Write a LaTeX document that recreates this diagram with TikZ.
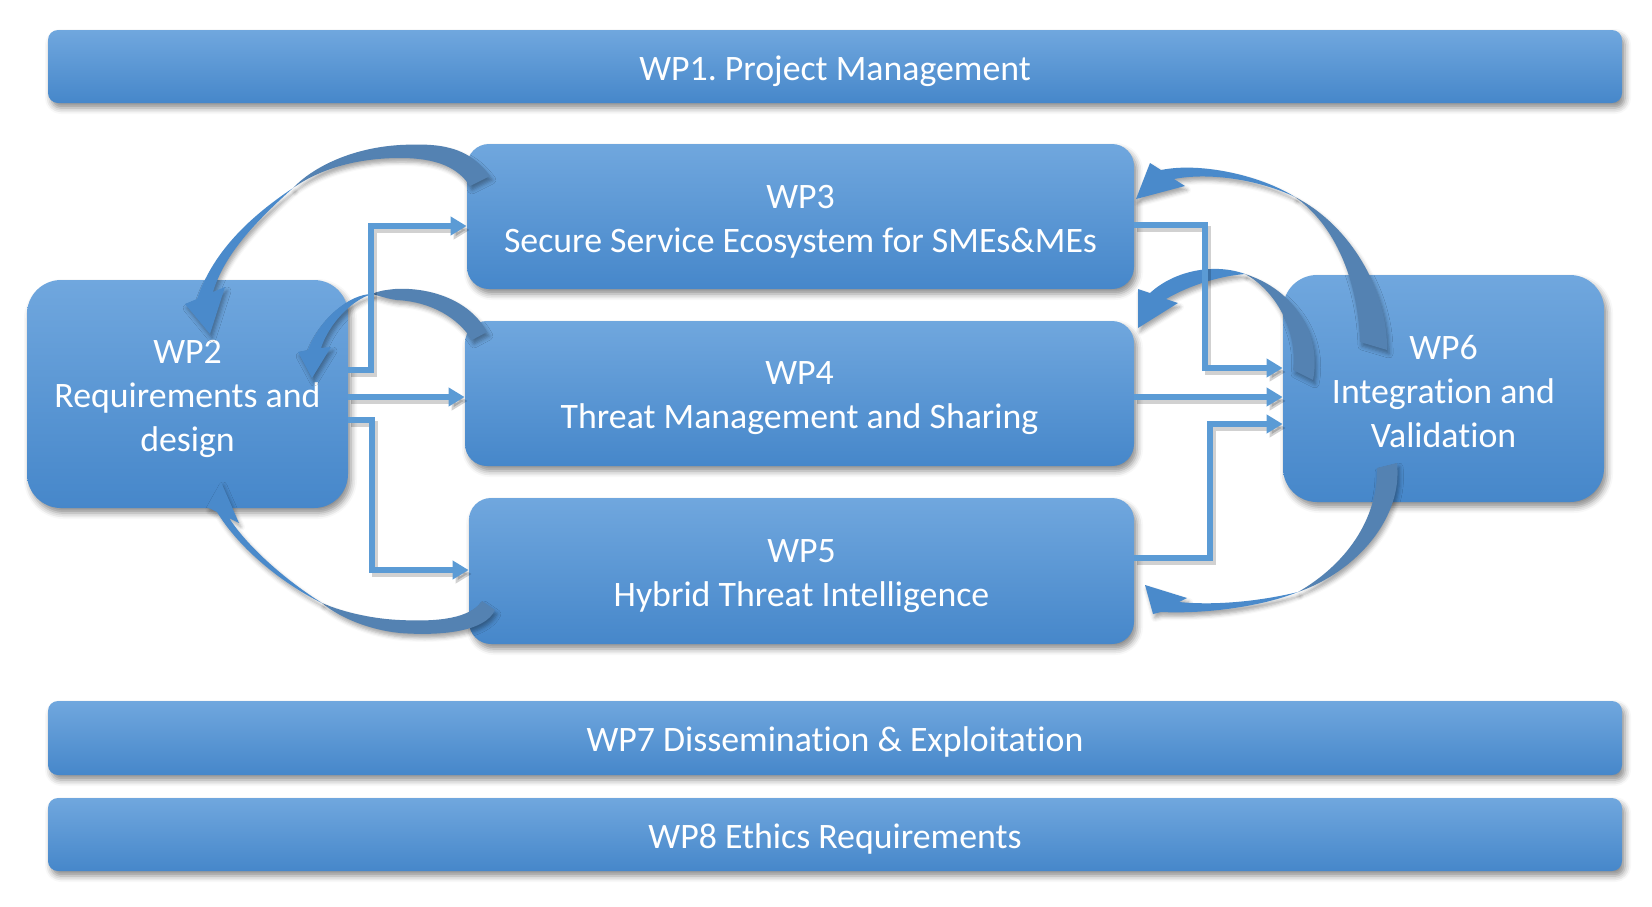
\documentclass[tikz,border=0pt]{standalone}
\usepackage{fontspec}
\setmainfont{Carlito}[Ligatures=NoCommon]
\usetikzlibrary{shadows.blur,arrows.meta}
\definecolor{boxtop}{RGB}{112,167,222}
\definecolor{boxbot}{RGB}{70,135,202}
\definecolor{conncol}{RGB}{91,155,213}
\definecolor{arrback}{RGB}{84,130,178}
\definecolor{arrfront}{RGB}{74,138,203}
\frenchspacing
\begin{document}
\begin{tikzpicture}[x=0.5pt,y=-0.5pt,
  wpbox/.style={rounded corners=#1, top color=boxtop, bottom color=boxbot, draw=none, inner sep=0pt,
    blur shadow={shadow xshift=1.5pt, shadow yshift=-2.5pt, shadow blur radius=3pt, shadow opacity=45}},
  wptext/.style={text=white, align=center, font=\fontsize{17.9}{22}\selectfont, inner sep=0pt},
  conn/.style={draw=conncol, line width=3pt, -{Triangle[length=8pt,width=9pt]},
    preaction={draw=black, opacity=0.18, line width=3pt, transform canvas={shift={(1.5pt,-2pt)}}}},
  cshadow/.style={blur shadow={shadow xshift=1pt, shadow yshift=-2pt, shadow blur radius=2pt, shadow opacity=35}},
  carrback/.style={fill=arrback, cshadow},
  carrfront/.style={fill=arrfront, cshadow}
]
\useasboundingbox (0,0) rectangle (1652,906);

% boxes
\node[wpbox=5pt, minimum width=787pt, minimum height=36.5pt] (wp1) at (835,66.5) {};
\node[wpbox=11pt, minimum width=333.5pt, minimum height=72.5pt] (wp3) at (800.5,216.5) {};
\node[wpbox=11pt, minimum width=334.5pt, minimum height=72.5pt] (wp4) at (799.5,393.5) {};
\node[wpbox=11pt, minimum width=332.5pt, minimum height=73pt] (wp5) at (801.5,571) {};
\node[wpbox=17pt, minimum width=160.5pt, minimum height=114pt] (wp2) at (187.5,394) {};
\node[wpbox=17pt, minimum width=160.5pt, minimum height=113.5pt] (wp6) at (1443.5,388.5) {};
\node[wpbox=5pt, minimum width=787pt, minimum height=37pt] (wp7) at (835,738) {};
\node[wpbox=5pt, minimum width=787pt, minimum height=36.5pt] (wp8) at (835,834.5) {};

\node[wptext] (wp1t) at ([yshift=-2.2pt]wp1.center) {WP1. Project Management};
\node[wptext] (wp3t) at ([yshift=-2.4pt]wp3.center) {WP3\\Secure Service Ecosystem for SMEs\&MEs};
\node[wptext] (wp4t) at ([yshift=-2.4pt]wp4.center) {WP4\\Threat Management and Sharing};
\node[wptext] (wp5t) at ([yshift=-2.4pt]wp5.center) {WP5\\Hybrid Threat Intelligence};
\node[wptext] (wp2t) at ([yshift=-2.6pt]wp2.center) {WP2\\Requirements and\\design};
\node[wptext] (wp6t) at ([yshift=-1.3pt]wp6.center) {WP6\\Integration and\\Validation};
\node[wptext] (wp7t) at ([yshift=-2.2pt]wp7.center) {WP7 Dissemination \& Exploitation};
\node[wptext] (wp8t) at ([yshift=-2.2pt]wp8.center) {WP8 Ethics Requirements};

% curved arrow A: WP3 -> WP2 (top left)
\path[carrback] (490,176) .. controls (468,146) and (440,143) .. (400,145)
  .. controls (350,148) and (312,168) .. (293,188)
  .. controls (318,170) and (355,158) .. (400,158)
  .. controls (438,158) and (458,168) .. (470,186) -- cycle;
\path[carrfront] (293,188) .. controls (245,220) and (212,255) .. (197,299)
  -- (185,304) -- (210,334) -- (225,287) -- (213,292)
  .. controls (224,255) and (255,222) .. (293,188) -- cycle;

% curved arrow B: WP4 -> WP2
\path[carrback] (487,332) .. controls (470,300) and (430,287) .. (395,289)
  .. controls (385,290) and (378,291) .. (372,294)
  .. controls (380,296) and (388,299) .. (397,300)
  .. controls (432,302) and (458,318) .. (472,340) -- cycle;
\path[carrfront] (372,294) .. controls (350,294) and (320,318) .. (308,350)
  -- (298,352) -- (312,378) -- (331,347) -- (321,348)
  .. controls (330,322) and (352,300) .. (372,294) -- cycle;

% curved arrow C: WP6 -> WP3
\path[carrback] (1387,350) .. controls (1388,290) and (1350,225) .. (1295,197)
  .. controls (1335,225) and (1358,280) .. (1360,342) -- cycle;
\path[carrfront] (1295,197) .. controls (1260,175) and (1200,162) .. (1161,170)
  -- (1150,163) -- (1136,199) -- (1185,186) -- (1174,179)
  .. controls (1210,172) and (1260,180) .. (1295,197) -- cycle;

% curved arrow D: WP6 -> WP4
\path[carrback] (1313,380) .. controls (1322,335) and (1295,290) .. (1245,274)
  .. controls (1275,290) and (1298,330) .. (1293,370) -- cycle;
\path[carrfront] (1245,274) .. controls (1215,263) and (1175,270) .. (1150,293)
  -- (1138,289) -- (1138,328) -- (1178,303) -- (1166,299)
  .. controls (1190,285) and (1220,276) .. (1245,274) -- cycle;

% curved arrow E: WP5 -> WP2
\path[carrback] (495,610) .. controls (485,632) and (440,636) .. (400,633)
  .. controls (370,630) and (340,618) .. (322,603)
  .. controls (345,613) and (375,619) .. (400,620)
  .. controls (440,622) and (470,618) .. (482,601) -- cycle;
\path[carrfront] (322,603) .. controls (285,585) and (240,550) .. (217,512)
  -- (207,507) -- (221,482) -- (239,523) -- (229,518)
  .. controls (250,550) and (290,583) .. (322,603) -- cycle;

% curved arrow F: WP6 -> WP5
\path[carrback] (1397,463) .. controls (1403,515) and (1360,570) .. (1298,592)
  .. controls (1345,565) and (1378,520) .. (1377,468) -- cycle;
\path[carrfront] (1298,592) .. controls (1260,607) and (1205,614) .. (1161,612)
  -- (1153,614) -- (1145,585) -- (1187,598) -- (1179,602)
  .. controls (1220,606) and (1265,600) .. (1298,592) -- cycle;

% elbow connectors
\coordinate (a1) at (371,370);
\coordinate (a2) at (371,226);
\coordinate (a3) at (400,397);
\coordinate (a4) at (372,420);
\coordinate (a5) at (372,570);
\coordinate (c1) at (1205,225);
\coordinate (c2) at (1205,368);
\coordinate (c3) at (1209,397);
\coordinate (c4) at (1210,558);
\coordinate (c5) at (1210,424);

\draw[conn] (wp2.east |- a1) -- (a1) -- (a2) -- (wp3.west |- a2);
\draw[conn] (wp2.east |- a3) -- (wp4.west |- a3);
\draw[conn] (wp2.east |- a4) -- (a4) -- (a5) -- (wp5.west |- a5);
\draw[conn] (wp3.east |- c1) -- (c1) -- (c2) -- (wp6.west |- c2);
\draw[conn] (wp4.east |- c3) -- (wp6.west |- c3);
\draw[conn] (wp5.east |- c4) -- (c4) -- (c5) -- (wp6.west |- c5);
\end{tikzpicture}
\end{document}
